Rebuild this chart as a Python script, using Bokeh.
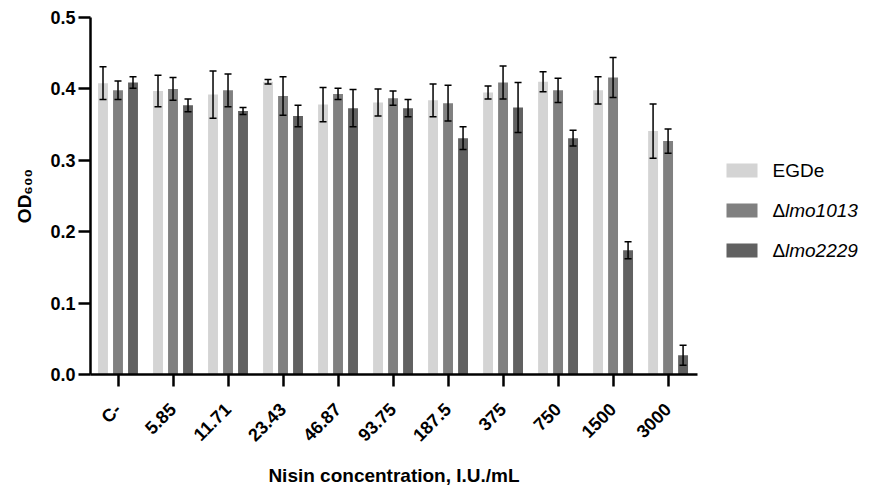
import math
from bokeh.plotting import figure
from bokeh.models import ColumnDataSource, Whisker, TeeHead, FixedTicker, Range1d
from bokeh.transform import dodge
from bokeh.layouts import row
from bokeh.core.properties import value
from bokeh.embed import file_html
from bokeh.resources import INLINE

categories = ["C-", "5.85", "11.71", "23.43", "46.87", "93.75", "187.5", "375", "750", "1500", "3000"]
series_names = ["EGDe", "lmo1013", "lmo2229"]

egde = [0.408, 0.397, 0.392, 0.410, 0.378, 0.381, 0.384, 0.395, 0.410, 0.398, 0.341]
egde_err = [0.023, 0.022, 0.033, 0.003, 0.024, 0.019, 0.023, 0.009, 0.014, 0.019, 0.038]
lmo1013 = [0.398, 0.400, 0.398, 0.390, 0.393, 0.387, 0.380, 0.409, 0.398, 0.416, 0.327]
lmo1013_err = [0.013, 0.016, 0.023, 0.027, 0.008, 0.010, 0.025, 0.023, 0.017, 0.028, 0.017]
lmo2229 = [0.409, 0.377, 0.369, 0.362, 0.373, 0.373, 0.331, 0.374, 0.331, 0.174, 0.027]
lmo2229_err = [0.008, 0.009, 0.005, 0.015, 0.026, 0.012, 0.016, 0.035, 0.011, 0.012, 0.014]

colors = ["#D4D4D4", "#808080", "#616161"]
FONT = "Liberation Sans"

x = list(range(len(categories)))

# ---- main chart ----
p = figure(width=700, height=489, output_backend="svg", toolbar_location=None,
           x_range=Range1d(-0.5, 10.535), y_range=Range1d(0, 0.5),
           min_border_left=90, min_border_right=3, min_border_top=17, min_border_bottom=115)
p.xgrid.visible = False
p.ygrid.visible = False
p.outline_line_color = None

offsets = [-0.2727, 0.0, 0.2727]
for vals, errs, col, off in zip([egde, lmo1013, lmo2229], [egde_err, lmo1013_err, lmo2229_err], colors, offsets):
    src = ColumnDataSource(dict(
        x=x, top=vals,
        upper=[v + e for v, e in zip(vals, errs)],
        lower=[v - e for v, e in zip(vals, errs)],
    ))
    p.vbar(x=dodge("x", off), top="top", bottom=0, width=0.18, source=src,
           fill_color=col, line_color=None)
    w = Whisker(base=dodge("x", off), upper="upper", lower="lower", source=src,
                line_color="black", line_width=1.5, level="overlay",
                upper_head=TeeHead(size=7, line_color="black", line_width=1.5),
                lower_head=TeeHead(size=7, line_color="black", line_width=1.5))
    p.add_layout(w)

for ax in (p.xaxis[0], p.yaxis[0]):
    ax.axis_line_color = "black"
    ax.axis_line_width = 2.5
    ax.major_tick_line_color = "black"
    ax.major_tick_line_width = 2.5
    ax.minor_tick_line_color = None
    ax.major_label_text_font = FONT
    ax.major_label_text_font_style = "bold"
    ax.major_label_text_color = "black"

p.yaxis.ticker = FixedTicker(ticks=[0.0, 0.1, 0.2, 0.3, 0.4, 0.5])
p.yaxis.major_label_overrides = {0.0: "0.0", 0.1: "0.1", 0.2: "0.2", 0.3: "0.3", 0.4: "0.4", 0.5: "0.5"}
p.yaxis.major_tick_out = 12
p.yaxis.major_tick_in = 0
p.yaxis.major_label_text_font_size = "18px"
p.yaxis.major_label_standoff = 3
p.yaxis.axis_label = "OD\u2086\u2080\u2080"
p.yaxis.axis_label_text_font = FONT
p.yaxis.axis_label_text_font_style = "bold"
p.yaxis.axis_label_text_font_size = "19px"
p.yaxis.axis_label_text_color = "black"
p.yaxis.axis_label_standoff = 12

p.xaxis.ticker = FixedTicker(ticks=x)
p.xaxis.major_label_overrides = {i: c for i, c in enumerate(categories)}
p.xaxis.major_label_orientation = math.pi / 4
p.xaxis.major_tick_out = 12
p.xaxis.major_tick_in = 0
p.xaxis.major_label_text_font_size = "18px"
p.xaxis.major_label_standoff = 20
p.xaxis.axis_label = "Nisin concentration, I.U./mL"
p.xaxis.axis_label_text_font = FONT
p.xaxis.axis_label_text_font_style = "bold"
p.xaxis.axis_label_text_font_size = "19px"
p.xaxis.axis_label_text_color = "black"
p.xaxis.axis_label_standoff = 10

# ---- legend panel ----
lg = figure(width=175, height=489, output_backend="svg", toolbar_location=None,
            x_range=Range1d(0, 175), y_range=Range1d(374, 17),
            min_border_left=0, min_border_right=0, min_border_top=17, min_border_bottom=115)
lg.axis.visible = False
lg.grid.visible = False
lg.outline_line_color = None
leg_y = [170, 210, 250]
lg.rect(x=[41.5] * 3, y=leg_y, width=31, height=14, fill_color=colors, line_color=None)
lg.text(x=[72], y=[leg_y[0]], text=[series_names[0]], text_font=value(FONT), text_font_size="19px",
        text_baseline="middle", text_color="black")
lg.text(x=[72, 72], y=leg_y[1:], text=["\u0394", "\u0394"], text_font=value(FONT), text_font_size="19px",
        text_baseline="middle", text_color="black")
lg.text(x=[84.5, 84.5], y=leg_y[1:], text=series_names[1:], text_font=value(FONT), text_font_size="19px",
        text_font_style="italic", text_baseline="middle", text_color="black")

layout = row(p, lg)
open("out.html", "w").write(file_html(layout, INLINE))
